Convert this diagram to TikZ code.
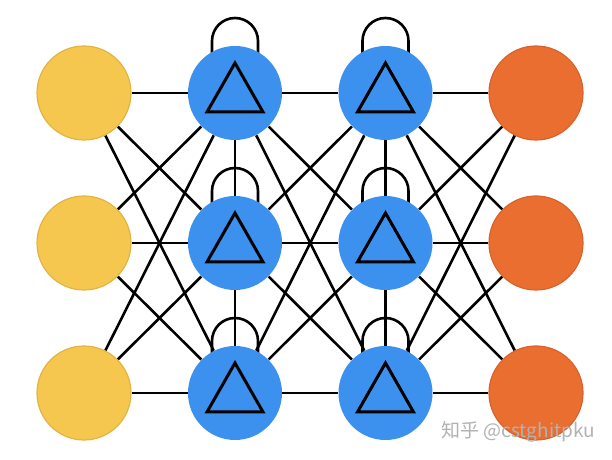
\documentclass[tikz,border=0pt]{standalone}
\usepackage{fontspec}
\usepackage{tikz}
\usetikzlibrary{backgrounds}
\newfontfamily\cjk{Noto Sans CJK SC}
\definecolor{inyellow}{HTML}{F6C74E}
\definecolor{inedge}{HTML}{E2B445}
\definecolor{hidblue}{HTML}{3D91EE}
\definecolor{outorange}{HTML}{EA6E30}
\definecolor{outedge}{HTML}{D8622A}
\tikzset{
 unit/.style={circle,inner sep=0pt,minimum size=47pt},
 inunit/.style={unit,fill=inyellow,draw=inedge,line width=0.6pt},
 hidunit/.style={unit,fill=hidblue},
 outunit/.style={unit,fill=outorange,draw=outedge,line width=0.6pt},
 wire/.style={line width=1.3pt,black}
}
\newcommand{\tri}[1]{\draw[wire,line width=1.5pt,line join=miter] ([xshift=-14pt,yshift=-9.5pt]#1.center) -- ([yshift=15pt]#1.center) -- ([xshift=14pt,yshift=-9.5pt]#1.center) -- cycle;}
\newcommand{\selfloop}[1]{\draw[wire] (#1.center) ++(-23,40) -- ++(0,12) arc[start angle=180,end angle=0,radius=23] -- ++(0,-12);}

\begin{document}
\begin{tikzpicture}[x=0.5pt,y=0.5pt]
\useasboundingbox (0,0) rectangle (612,460);
\foreach \r/\y in {1/367,2/217,3/67} {
 \node[inunit] (i\r) at (84,\y) {};
 \node[hidunit] (a\r) at (235,\y) {};
 \node[hidunit] (b\r) at (385.5,\y) {};
 \node[outunit] (o\r) at (536,\y) {};
 \tri{a\r}
 \tri{b\r}
 }
% connections go under the nodes
\begin{scope}[on background layer]
 \foreach \p in {1,2,3} {
  \foreach \q in {1,2,3} {
   \draw[wire] (i\p) -- (a\q);
   \draw[wire] (a\p) -- (b\q);
   \draw[wire] (b\p) -- (o\q);
   }
  \selfloop{a\p}
  \selfloop{b\p}
  }
 \draw[wire] (a1) -- (a2) (a2) -- (a3) (b1) -- (b2) (b2) -- (b3);
\end{scope}
\node[text=gray!60,font=\cjk\fontsize{9.5}{11}\selectfont,anchor=east] (mark) at (602,28) {知乎 @cstghitpku};
\end{tikzpicture}
\end{document}
